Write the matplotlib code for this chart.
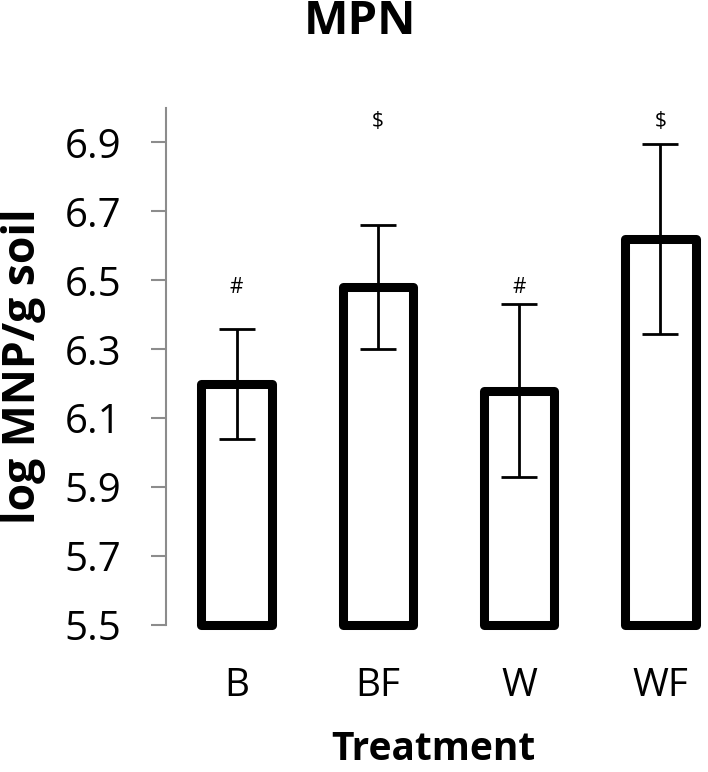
import matplotlib
matplotlib.use("Agg")
import matplotlib.pyplot as plt

plt.rcParams['font.family'] = ['Open Sans', 'DejaVu Sans']

categories = ["B", "BF", "W", "WF"]
means = [6.20, 6.48, 6.18, 6.62]
errors = [0.16, 0.18, 0.25, 0.275]
marks = ["#", "$", "#", "$"]
mark_y = [6.48, 6.96, 6.48, 6.96]
yticks = [5.5, 5.7, 5.9, 6.1, 6.3, 6.5, 6.7, 6.9]
ymin, ymax = 5.5, 7.0

W, H = 708, 772
fig = plt.figure(figsize=(W / 100, H / 100), dpi=100)
ax = fig.add_axes([166 / W, 147 / H, 565 / W, 517 / H])

x = range(len(categories))
heights = [m - ymin for m in means]
bars = ax.bar(x, heights, bottom=ymin, width=0.5, facecolor='white',
              edgecolor='black', linewidth=6.5, zorder=2)
for b in bars:
    b.set_joinstyle('round')
    b.set_clip_on(False)

ax.errorbar(x, means, yerr=errors, fmt='none', ecolor='black',
            elinewidth=2.0, capsize=13, capthick=2.0, zorder=3)

for xi, m, my in zip(x, marks, mark_y):
    ax.text(xi, my, m, ha='center', va='center', fontsize=15,
            color='black', zorder=4)

ax.set_xlim(-0.5, len(categories) - 0.5)
ax.set_ylim(ymin, ymax)
ax.set_yticks(yticks)
ax.set_yticklabels([f"{t:.1f}" for t in yticks])
ax.set_xticks(list(x))
ax.set_xticklabels(categories)

for s in ['top', 'right', 'bottom']:
    ax.spines[s].set_visible(False)
ax.spines['left'].set_color('#8c8c8c')
ax.spines['left'].set_linewidth(1.5)

ax.tick_params(axis='y', direction='out', length=11, width=1.5,
               color='#8c8c8c', labelsize=29, pad=21, labelcolor='black')
ax.tick_params(axis='x', length=0, labelsize=28, pad=30, labelcolor='black')

ax.set_ylabel("log MNP/g soil", fontsize=32, fontweight='bold')
ax.yaxis.set_label_coords((23 - 166) / 565, 0.5)
ax.set_xlabel("Treatment", fontsize=28, fontweight='bold')
ax.xaxis.set_label_coords((433 - 166) / 565, (625 - 750) / 517)
ax.xaxis.label.set_va('center')
ax.yaxis.label.set_va('center')

fig.text(360 / W, 1 - 22 / H, "MPN", ha='center', va='center',
         fontsize=34, fontweight='bold')

fig.savefig("out.png", dpi=100)
